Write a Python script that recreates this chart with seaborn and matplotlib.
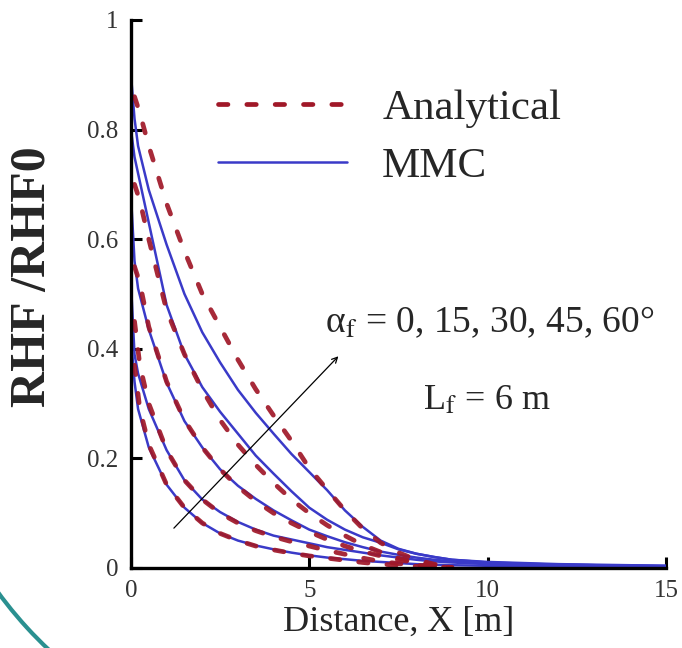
import numpy as np
import pandas as pd
import matplotlib
matplotlib.use("Agg")
import matplotlib.pyplot as plt
import seaborn as sns
from matplotlib.lines import Line2D
from matplotlib.patches import Arc

# ---- data ----
ANGLES = [0, 15, 30, 45, 60]

X_MMC = [0, 0.1, 0.2, 0.5, 1.0, 1.5, 2.0, 2.5, 3.0, 3.5, 4.0, 4.5, 5.0, 5.5,
         6.0, 6.5, 7.0, 7.5, 8.0, 8.5, 9.0, 10, 11, 12, 13, 14, 15]
MMC_0  = [0.42, 0.34, 0.29, 0.22, 0.152, 0.11, 0.082, 0.063, 0.05, 0.041, 0.034, 0.028, 0.023, 0.019,
          0.016, 0.013, 0.011, 0.009, 0.007, 0.006, 0.005, 0.004, 0.003, 0.003, 0.002, 0.002, 0.002]
MMC_15 = [0.52, 0.39, 0.355, 0.29, 0.215, 0.16, 0.125, 0.102, 0.084, 0.07, 0.059, 0.052, 0.045, 0.038,
          0.033, 0.028, 0.023, 0.019, 0.015, 0.012, 0.010, 0.007, 0.006, 0.005, 0.004, 0.004, 0.003]
MMC_30 = [0.68, 0.56, 0.51, 0.435, 0.338, 0.268, 0.22, 0.18, 0.15, 0.126, 0.105, 0.087, 0.07, 0.058,
          0.047, 0.038, 0.03, 0.024, 0.019, 0.015, 0.012, 0.009, 0.007, 0.006, 0.005, 0.004, 0.003]
MMC_45 = [0.80, 0.75, 0.72, 0.63, 0.48, 0.39, 0.33, 0.285, 0.245, 0.205, 0.172, 0.14, 0.11, 0.088,
          0.07, 0.056, 0.046, 0.034, 0.026, 0.02, 0.015, 0.01, 0.008, 0.006, 0.005, 0.004, 0.004]
MMC_60 = [0.90, 0.82, 0.77, 0.69, 0.59, 0.50, 0.43, 0.375, 0.325, 0.283, 0.245, 0.208, 0.175, 0.142,
          0.105, 0.075, 0.05, 0.035, 0.026, 0.02, 0.015, 0.011, 0.009, 0.007, 0.006, 0.005, 0.004]

X_ANA = [0.1, 0.25, 0.5, 1.0, 1.5, 2.0, 2.5, 3.0, 3.5, 4.0, 4.5, 5.0, 5.5, 6.0,
         6.5, 7.0, 7.5, 8.0, 8.5, 9.0]
ANA_0  = [0.37, 0.29, 0.225, 0.152, 0.11, 0.082, 0.063, 0.05, 0.04, 0.033, 0.027, 0.022, 0.018, 0.014,
          0.01, 0.007, 0.005, 0.003, 0.002, 0.001]
ANA_15 = [0.45, 0.37, 0.30, 0.215, 0.16, 0.125, 0.10, 0.082, 0.068, 0.057, 0.048, 0.04, 0.032, 0.025,
          0.018, 0.012, 0.008, 0.005, 0.003, 0.001]
ANA_30 = [0.55, 0.52, 0.44, 0.34, 0.27, 0.22, 0.18, 0.148, 0.122, 0.10, 0.082, 0.066, 0.052, 0.04,
          0.03, 0.022, 0.015, 0.009, 0.005, 0.002]
ANA_45 = [0.70, 0.67, 0.60, 0.47, 0.39, 0.325, 0.27, 0.225, 0.188, 0.155, 0.125, 0.10, 0.078, 0.059,
          0.042, 0.029, 0.018, 0.01, 0.005, 0.002]
ANA_60 = [0.86, 0.83, 0.77, 0.665, 0.578, 0.50, 0.44, 0.38, 0.326, 0.278, 0.232, 0.182, 0.143, 0.105,
          0.072, 0.046, 0.028, 0.015, 0.007, 0.003]

X_TICKS = [0, 5, 10, 15]
Y_TICKS = [0, 0.2, 0.4, 0.6, 0.8, 1]
Y_TICKLABELS = ["0", "0.2", "0.4", "0.6", "0.8", "1"]

mmc = pd.concat([pd.DataFrame({"x": X_MMC, "y": v, "angle": a})
                 for a, v in zip(ANGLES, [MMC_0, MMC_15, MMC_30, MMC_45, MMC_60])])
ana = pd.concat([pd.DataFrame({"x": X_ANA, "y": v, "angle": a})
                 for a, v in zip(ANGLES, [ANA_0, ANA_15, ANA_30, ANA_45, ANA_60])])

RED = "#a01828"
BLUE = "#3a3ac8"

sns.set_style("ticks")
plt.rcParams["font.family"] = ["Liberation Serif", "DejaVu Serif"]
plt.rcParams["mathtext.fontset"] = "stix"

fig = plt.figure(figsize=(6.82, 6.48), dpi=100)
ax = fig.add_axes([0.192, 0.1235, 0.7845, 0.8457])

sns.lineplot(data=mmc, x="x", y="y", units="angle", estimator=None, sort=False,
             color=BLUE, linewidth=1.8, ax=ax, legend=False)
sns.lineplot(data=ana, x="x", y="y", units="angle", estimator=None, sort=False,
             color=RED, linewidth=3.4, alpha=0.92, ax=ax, legend=False)
for ln in ax.lines[5:]:
    ln.set_dashes((2.0, 4.0))
    ln.set_dash_capstyle("round")

ax.set_xlim(0, 15)
ax.set_ylim(0, 1)
ax.set_xticks(X_TICKS)
ax.set_yticks(Y_TICKS)
ax.set_yticklabels(Y_TICKLABELS)
ax.tick_params(direction="in", length=8, width=2.2, labelsize=18, pad=9,
               labelcolor="#333333", color="black")
sns.despine(ax=ax)
for s in ["left", "bottom"]:
    ax.spines[s].set_linewidth(2.4)
    ax.spines[s].set_color("black")
    ax.spines[s].set_zorder(5)

ax.set_xlabel("Distance, X [m]", fontsize=26, labelpad=2)
ax.set_ylabel("RHF /RHF0", fontsize=36, fontweight="bold")
ax.yaxis.set_label_coords(-0.14, 0.532)

# legend
handles = [Line2D([], [], color=RED, linewidth=3.4, dashes=(2.0, 4.0), dash_capstyle="round"),
           Line2D([], [], color=BLUE, linewidth=1.8)]
ax.legend(handles, ["Analytical", "MMC"], loc="upper left", bbox_to_anchor=(0.13, 0.905),
          frameon=False, fontsize=31, handlelength=3.0, handletextpad=0.82,
          labelspacing=0.42, borderaxespad=0)

# annotation
ax.annotate("", xy=(5.87, 0.39), xytext=(1.15, 0.069),
            arrowprops=dict(arrowstyle="->", color="black", lw=0.9))
ax.text(5.45, 0.43, "α$_\\mathrm{f}$ = 0, 15, 30, 45, 60°", fontsize=27, ha="left", va="baseline")
ax.text(8.2, 0.29, "L$_\\mathrm{f}$ = 6 m", fontsize=26, ha="left", va="baseline")

# decorative teal arc at bottom-left
fig.add_artist(Arc((3.30, 2.98), 8.22, 8.22, theta1=205, theta2=240,
                   transform=fig.dpi_scale_trans, color="#2a9090", lw=3))

fig.savefig("out.png", dpi=100)
